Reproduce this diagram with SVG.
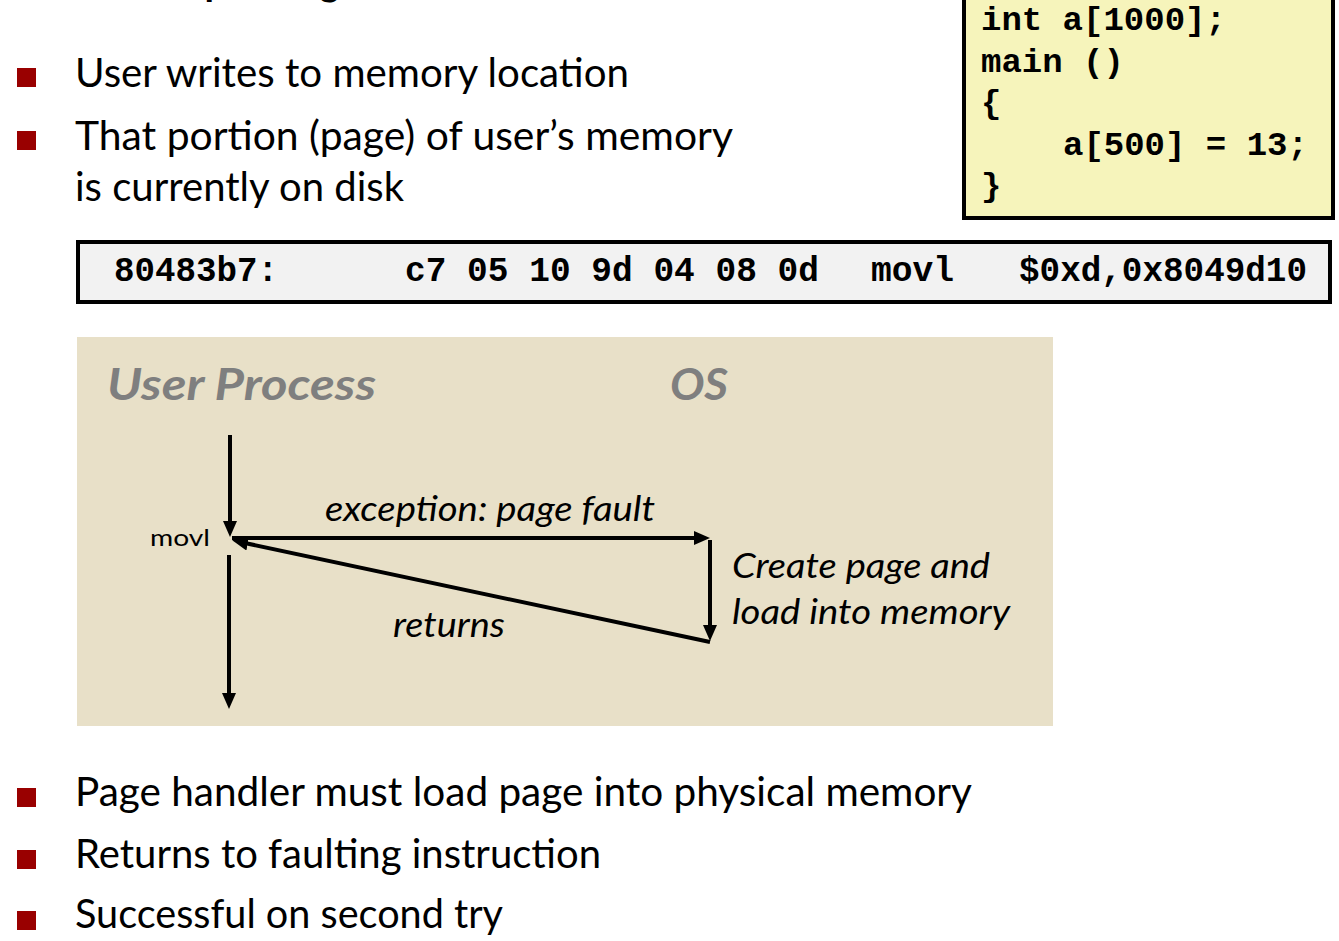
<svg xmlns="http://www.w3.org/2000/svg" width="1339" height="941" viewBox="0 0 1339 941">
<style>
.body{font-family:Lato,"Open Sans","Liberation Sans",sans-serif;font-size:40px;fill:#000}
.bul{fill:#990000}
.code{font-family:"Liberation Mono","DejaVu Sans Mono",monospace;font-weight:bold;font-size:34px;fill:#000}
.asm{font-family:"Liberation Mono","DejaVu Sans Mono",monospace;font-weight:bold;font-size:35px;fill:#000}
.hdr{font-family:Lato,"Open Sans","Liberation Sans",sans-serif;font-weight:bold;font-style:italic;font-size:44px;fill:#7f7f7f}
.lbl{font-family:Lato,"Open Sans","Liberation Sans",sans-serif;font-style:italic;font-size:34px;fill:#000}
.arr{stroke:#000;stroke-width:4;fill:none}
</style>
<defs>
<marker id="ah" viewBox="0 0 16 14" refX="8" refY="7" markerWidth="16" markerHeight="14" markerUnits="userSpaceOnUse" orient="auto">
<path d="M0,0 L16,7 L0,14 z" fill="#000"/>
</marker>
</defs>
<rect width="1339" height="941" fill="#fff"/>
<g id="title">
<text x="16" y="-5" font-family="Lato,'Open Sans',sans-serif" font-weight="bold" font-size="40" textLength="438" lengthAdjust="spacingAndGlyphs">Fault Example: Page Fault</text>
</g>
<g id="bullets-top">
<rect class="bul" x="17" y="68" width="19" height="19"/>
<text class="body" x="75" y="87" textLength="554" lengthAdjust="spacingAndGlyphs">User writes to memory location</text>
<rect class="bul" x="17" y="131" width="19" height="19"/>
<text class="body" x="75" y="150" textLength="658" lengthAdjust="spacingAndGlyphs">That portion (page) of user’s memory</text>
<text class="body" x="75" y="201" textLength="329" lengthAdjust="spacingAndGlyphs">is currently on disk</text>
</g>
<g id="code-box">
<rect x="964" y="-10" width="369" height="228" fill="#f6f4bb" stroke="#000" stroke-width="4"/>
<text class="code" x="981" y="30">int a[1000];</text>
<text class="code" x="981" y="72">main ()</text>
<text class="code" x="981" y="113">{</text>
<text class="code" x="1063" y="155">a[500] = 13;</text>
<text class="code" x="981" y="196">}</text>
</g>
<g id="asm-box">
<rect x="78" y="242" width="1252" height="60" fill="#f2f2f2" stroke="#000" stroke-width="4"/>
<text class="asm" x="114" y="281" textLength="164" lengthAdjust="spacingAndGlyphs">80483b7:</text>
<text class="asm" x="405" y="281" textLength="414" lengthAdjust="spacingAndGlyphs">c7 05 10 9d 04 08 0d</text>
<text class="asm" x="871" y="281" textLength="83" lengthAdjust="spacingAndGlyphs">movl</text>
<text class="asm" x="1019" y="281" textLength="288" lengthAdjust="spacingAndGlyphs">$0xd,0x8049d10</text>
</g>
<g id="panel">
<rect x="77" y="337" width="976" height="389" fill="#e8e0c8"/>
<text class="hdr" x="107" y="400" textLength="269" lengthAdjust="spacingAndGlyphs">User Process</text>
<text class="hdr" x="670" y="400" textLength="58" lengthAdjust="spacingAndGlyphs">OS</text>
</g>
<g id="connectors">
<line class="arr" x1="230" y1="435" x2="230" y2="529" marker-end="url(#ah)"/>
<line class="arr" x1="232" y1="538" x2="702" y2="538" marker-end="url(#ah)"/>
<line class="arr" x1="710" y1="540" x2="710" y2="633" marker-end="url(#ah)"/>
<line class="arr" x1="710" y1="642" x2="240" y2="542" stroke-width="5" marker-end="url(#ah)"/>
<line class="arr" x1="229" y1="555" x2="229" y2="701" marker-end="url(#ah)"/>
</g>
<g id="labels">
<text x="150" y="546" font-family="Lato,'Open Sans',sans-serif" font-size="24" textLength="60" lengthAdjust="spacingAndGlyphs">movl</text>
<text class="lbl" x="325" y="521" textLength="330" lengthAdjust="spacingAndGlyphs">exception: page fault</text>
<text class="lbl" x="393" y="637" textLength="112" lengthAdjust="spacingAndGlyphs">returns</text>
<text class="lbl" x="732" y="578" textLength="258" lengthAdjust="spacingAndGlyphs">Create page and</text>
<text class="lbl" x="732" y="624" textLength="278" lengthAdjust="spacingAndGlyphs">load into memory</text>
</g>
<g id="bullets-bottom">
<rect class="bul" x="17" y="788" width="19" height="19"/>
<text class="body" x="75" y="806" textLength="897" lengthAdjust="spacingAndGlyphs">Page handler must load page into physical memory</text>
<rect class="bul" x="17" y="850" width="19" height="19"/>
<text class="body" x="75" y="868" textLength="526" lengthAdjust="spacingAndGlyphs">Returns to faulting instruction</text>
<rect class="bul" x="17" y="911" width="19" height="19"/>
<text class="body" x="75" y="928" textLength="428" lengthAdjust="spacingAndGlyphs">Successful on second try</text>
</g>
</svg>
